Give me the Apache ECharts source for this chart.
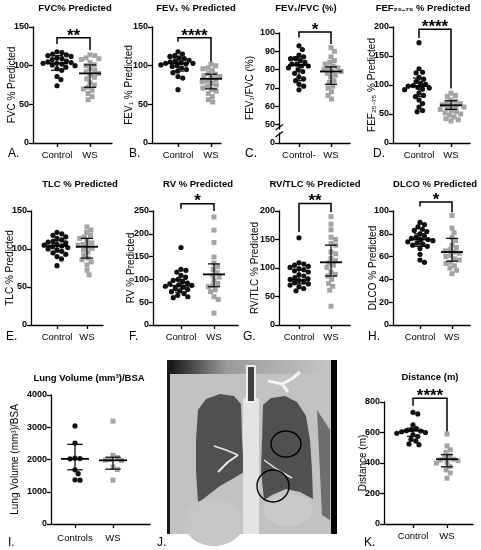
<!DOCTYPE html>
<html>
<head>
<meta charset="utf-8">
<script src="https://cdn.jsdelivr.net/npm/echarts@6/dist/echarts.min.js"></script>
<style>
html, body { margin: 0; padding: 0; background: #fff; }
#chart { width: 481px; height: 550px; }
</style>
</head>
<body>
<div id="chart"></div>
<script>
var chart = echarts.init(document.getElementById('chart'))
var FONT = 'Liberation Sans, Arial, Helvetica, sans-serif'

// group names on the x axes
var groups = ['Control', 'WS']
var groupsC = ['Control-', 'WS']
var groupsI = ['Controls', 'WS']

// A. FVC % predicted
var fvcControl = [118, 117, 115, 114, 113, 112, 110, 109, 108, 106, 105, 104, 103, 103, 102, 101, 100, 98, 96, 94, 86, 82, 74]
var fvcWS = [114, 113, 110, 109, 108, 104, 101, 100, 96, 94, 92, 90, 88, 85, 83, 78, 75, 72, 70, 68, 64, 60, 56]
var fvcBars = [[103, 94, 113], [90, 72, 101]] // centre, low, high
var fvcSig = [136, 128, 120] // bracket top, left leg end, right leg end

// B. FEV1 % predicted
var fev1Control = [118, 115, 113, 112, 110, 109, 107, 106, 105, 104, 103, 103, 102, 101, 100, 99, 97, 95, 93, 91, 86, 84, 69]
var fev1WS = [102, 100, 97, 96, 94, 90, 89, 87, 86, 84, 82, 80, 79, 77, 75, 73, 71, 69, 67, 64, 60, 56, 53]
var fev1Bars = [[103, 93, 110], [83, 70, 89]]
var fev1Sig = [136, 131, 105]

// C. FEV1/FVC
var ratioControl = [93, 91, 88, 87, 86, 86, 85, 84, 83, 83, 82, 82, 81, 80, 79, 78, 76, 75, 74, 72, 71, 69]
var ratioWS = [92, 90, 87, 85, 84, 83, 82, 81, 81, 80, 79, 79, 78, 77, 76, 74, 73, 71, 70, 68, 66, 64]
var ratioBars = [[82.5, 74, 87], [79, 72, 81.5]]
var ratioSig = [100.5, 97.5, 94]

// D. FEF25-75 % predicted
var fefControl = [173, 128, 122, 121, 113, 110, 106, 103, 101, 99, 98, 96, 95, 93, 92, 86, 82, 80, 74, 68, 62, 56, 54]
var fefWS = [86, 82, 80, 74, 72, 70, 68, 66, 65, 63, 62, 60, 58, 56, 54, 52, 50, 48, 45, 42, 40, 38]
var fefBars = [[98, 80, 112], [65, 58, 73]]
var fefSig = [196, 181, 94]

// E. TLC % predicted
var tlcControl = [122, 120, 118, 116, 114, 112, 110, 109, 108, 106, 105, 104, 103, 102, 100, 99, 97, 95, 93, 90, 87, 78]
var tlcWS = [129, 125, 122, 118, 116, 114, 110, 108, 106, 105, 103, 101, 99, 96, 92, 88, 86, 83, 79, 72, 66]
var tlcBars = [[104, 96, 111], [103, 88, 114]]

// F. RV % predicted
var rvControl = [170, 122, 120, 116, 109, 105, 100, 98, 95, 92, 90, 88, 87, 85, 83, 80, 78, 75, 73, 69, 65, 62, 60]
var rvWS = [237, 208, 181, 149, 136, 128, 122, 115, 109, 105, 98, 91, 87, 84, 77, 73, 62, 56, 26]
var rvBars = [[86, 72, 100], [111, 84, 134]]
var rvSig = [266, 255, 250]

// G. RV/TLC % predicted
var rvtlcControl = [153, 109, 107, 105, 103, 101, 99, 97, 95, 93, 88, 86, 83, 81, 80, 78, 76, 74, 72, 70, 67, 64, 60]
var rvtlcWS = [190, 177, 167, 154, 150, 143, 140, 128, 125, 117, 113, 109, 105, 101, 93, 89, 86, 80, 73, 68, 61, 33]
var rvtlcBars = [[79, 72, 96], [110, 86, 140]]
var rvtlcSig = [213, 163, 198]

// H. DLCO % predicted
var dlcoControl = [90, 88, 86, 84, 83, 82, 80, 78, 77, 76, 75, 75, 74, 73, 72, 71, 70, 69, 67, 62, 57, 55]
var dlcoWS = [96, 85, 81, 77, 74, 70, 68, 66, 65, 64, 63, 61, 60, 58, 57, 55, 54, 52, 50, 48, 45]
var dlcoBars = [[75, 69, 80], [64, 56, 76]]
var dlcoSig = [108, 104, 99]

// I. lung volume / BSA
var lungControl = [3040, 2510, 2040, 2030, 2020, 1680, 1560, 1370, 1360]
var lungWS = [3190, 2130, 2060, 2000, 1980, 1970, 1770, 1690, 1360]
var lungBars = [[2020, 1680, 2470], [1975, 1700, 2070]]

// K. walk distance
var distControl = [732, 722, 650, 625, 618, 612, 610, 605, 600, 595, 585, 575, 555, 545, 525, 520]
var distWS = [590, 512, 487, 470, 447, 435, 425, 420, 415, 405, 400, 378, 355, 335, 300]
var distBars = [[612, 575, 628], [425, 375, 455]]
var distSig = [825, 776, 607]

// panel setup: texts, data and where each plot sits on the page
var panels = [
  { letter: 'A.', title: 'FVC% Predicted', yName: 'FVC % Predicted', cats: groups,
    control: fvcControl, ws: fvcWS, bars: fvcBars, sig: fvcSig, stars: '**',
    y: { min: 0, max: 150, step: 50 },
    box: { axisX: 33, ctrlX: 57, wsX: 90, rightX: 112, top: 27, bottom: 143, nameX: 12, titleX: 75, titleY: 8, letterX: 8, letterY: 154 } },
  { letter: 'B.', title: 'FEV\u2081 % Predicted', yName: 'FEV\u2081 % Predicted', cats: groups,
    control: fev1Control, ws: fev1WS, bars: fev1Bars, sig: fev1Sig, stars: '****',
    y: { min: 0, max: 150, step: 50 },
    box: { axisX: 152, ctrlX: 178, wsX: 211, rightX: 221, top: 27, bottom: 143, nameX: 129, titleX: 196, titleY: 8, letterX: 129, letterY: 154 } },
  { letter: 'C.', title: 'FEV\u2081/FVC (%)', yName: 'FEV\u2081/FVC (%)', cats: groupsC,
    control: ratioControl, ws: ratioWS, bars: ratioBars, sig: ratioSig, stars: '*',
    y: { min: 40, max: 100, step: 10, zeroLabel: 40 },
    box: { axisX: 279, ctrlX: 299, wsX: 331, rightX: 350, top: 33, bottom: 143, nameX: 250, titleX: 306, titleY: 8, letterX: 245, letterY: 154 } },
  { letter: 'D.', title: 'FEF\u2082\u2085\u208B\u2087\u2085 % Predicted', yName: 'FEF\u2082\u2085\u208B\u2087\u2085 % Predicted', cats: groups,
    control: fefControl, ws: fefWS, bars: fefBars, sig: fefSig, stars: '****',
    y: { min: 0, max: 200, step: 50 },
    box: { axisX: 393, ctrlX: 419, wsX: 451, rightX: 470, top: 27, bottom: 143, nameX: 372, titleX: 423, titleY: 8, letterX: 373, letterY: 154 } },
  { letter: 'E.', title: 'TLC % Predicted', yName: 'TLC % Predicted', cats: groups,
    control: tlcControl, ws: tlcWS, bars: tlcBars,
    y: { min: 0, max: 150, step: 50 },
    box: { axisX: 31, ctrlX: 57, wsX: 87, rightX: 103, top: 211, bottom: 325, nameX: 10, titleX: 80, titleY: 184, letterX: 6, letterY: 337 } },
  { letter: 'F.', title: 'RV % Predicted', yName: 'RV % Predicted', cats: groups,
    control: rvControl, ws: rvWS, bars: rvBars, sig: rvSig, stars: '*',
    y: { min: 0, max: 250, step: 50 },
    box: { axisX: 153, ctrlX: 181, wsX: 214, rightX: 238, top: 211, bottom: 325, nameX: 131, titleX: 198, titleY: 184, letterX: 129, letterY: 337 } },
  { letter: 'G.', title: 'RV/TLC % Predicted', yName: 'RV/TLC % Predicted', cats: groups,
    control: rvtlcControl, ws: rvtlcWS, bars: rvtlcBars, sig: rvtlcSig, stars: '**',
    y: { min: 0, max: 200, step: 50 },
    box: { axisX: 279, ctrlX: 299, wsX: 331, rightX: 350, top: 211, bottom: 325, nameX: 255, titleX: 315, titleY: 184, letterX: 243, letterY: 337 } },
  { letter: 'H.', title: 'DLCO % Predicted', yName: 'DLCO % Predicted', cats: groups,
    control: dlcoControl, ws: dlcoWS, bars: dlcoBars, sig: dlcoSig, stars: '*',
    y: { min: 0, max: 100, step: 20 },
    box: { axisX: 393, ctrlX: 420, wsX: 452, rightX: 470, top: 211, bottom: 325, nameX: 373, titleX: 435, titleY: 184, letterX: 368, letterY: 337 } },
  { letter: 'I.', title: 'Lung Volume (mm\u00B3)/BSA', yName: 'Lung Volume (mm\u00B3)/BSA', cats: groupsI,
    control: lungControl, ws: lungWS, bars: lungBars, barW: 14,
    y: { min: 0, max: 4000, step: 1000 },
    box: { axisX: 51, ctrlX: 75, wsX: 113, rightX: 150, top: 395, bottom: 524, nameX: 15, titleX: 89, titleY: 378, letterX: 8, letterY: 543, labelMargin: 9 } },
  { letter: 'K.', title: 'Distance (m)', yName: 'Distance (m)', cats: groups,
    control: distControl, ws: distWS, bars: distBars, sig: distSig, stars: '****',
    y: { min: 0, max: 800, step: 200 },
    box: { axisX: 384, ctrlX: 413, wsX: 447, rightX: 473, top: 402, bottom: 524, nameX: 363, titleX: 430, titleY: 377, letterX: 364, letterY: 543 } }
]

// spread points of one group sideways so they do not overlap (like a bee swarm)
function swarm(vals, pxPerUnit, d) {
  var order = vals.map(function(v, i) { return i }).sort(function(a, b) { return vals[b] - vals[a] })
  var placed = []
  var off = []
  order.forEach(function(i) {
    var y = vals[i] * pxPerUnit
    var near = placed.filter(function(p) { return Math.abs(p.y - y) < d })
    var cands = [0]
    near.forEach(function(p) {
      var dx = Math.sqrt(d * d - (p.y - y) * (p.y - y))
      cands.push(p.x + dx, p.x - dx)
    })
    cands.sort(function(a, b) { return Math.abs(a) - Math.abs(b) })
    var x = cands.find(function(c) {
      return near.every(function(p) { return (p.x - c) * (p.x - c) + (p.y - y) * (p.y - y) >= d * d - 0.01 })
    })
    placed.push({ x: x, y: y })
    off[i] = x
  })
  return off
}

// centre line + whiskers
function makeBars(halfW) {
  return function(params, api) {
    var x = api.value(0)
    var m = api.coord([x, api.value(1)])
    var lo = api.coord([x, api.value(2)])
    var hi = api.coord([x, api.value(3)])
    var cap = halfW * 0.55
    var st = { stroke: '#111', lineWidth: 1.3, fill: null }
    return {
      type: 'group',
      children: [
        { type: 'line', shape: { x1: lo[0], y1: lo[1], x2: hi[0], y2: hi[1] }, style: st },
        { type: 'line', shape: { x1: lo[0] - cap, y1: lo[1], x2: lo[0] + cap, y2: lo[1] }, style: st },
        { type: 'line', shape: { x1: hi[0] - cap, y1: hi[1], x2: hi[0] + cap, y2: hi[1] }, style: st },
        { type: 'line', shape: { x1: m[0] - halfW, y1: m[1], x2: m[0] + halfW, y2: m[1] }, style: { stroke: '#000', lineWidth: 1.8 } }
      ]
    }
  }
}

// significance bracket with stars
function makeBracket(stars) {
  return function(params, api) {
    var a = api.coord([api.value(0), api.value(2)])
    var b = api.coord([api.value(1), api.value(2)])
    var la = api.coord([api.value(0), api.value(3)])
    var rb = api.coord([api.value(1), api.value(4)])
    return {
      type: 'group',
      children: [
        { type: 'polyline', shape: { points: [la, a, b, rb] }, style: { stroke: '#000', lineWidth: 1.5, fill: null } },
        { type: 'text', x: (a[0] + b[0]) / 2, y: a[1] - 2,
          style: { text: stars, font: 'bold 17px ' + FONT, fill: '#000',
            align: 'center', verticalAlign: 'middle', textAlign: 'center', textVerticalAlign: 'middle' } }
      ]
    }
  }
}

var grids = []
var xAxes = []
var yAxes = []
var series = []
var texts = []

panels.forEach(function(p, i) {
  var b = p.box
  var unit = b.wsX - b.ctrlX
  var xmin = 1 - (b.ctrlX - b.axisX) / unit
  var xmax = 2 + (b.rightX - b.wsX) / unit
  grids.push({ left: b.axisX, top: b.top, width: b.rightX - b.axisX, height: b.bottom - b.top,
    containLabel: false, outerBoundsMode: 'none' })
  xAxes.push({
    gridIndex: i, type: 'value', min: xmin, max: xmax,
    axisLine: { show: true, onZero: false, lineStyle: { color: '#000', width: 1.3 } },
    axisTick: { show: true, customValues: [1, 2], length: 4, lineStyle: { color: '#000', width: 1.3 } },
    axisLabel: { customValues: [1, 2], margin: b.labelMargin || 7, color: '#000', fontSize: 9.5, fontFamily: FONT,
      formatter: function(v) { return p.cats[Math.round(v) - 1] } },
    splitLine: { show: false }
  })
  yAxes.push({
    gridIndex: i, type: 'value', min: p.y.min, max: p.y.max, interval: p.y.step,
    name: p.yName, nameLocation: 'middle', nameGap: b.axisX - b.nameX - 5, nameMoveOverlap: false,
    nameTextStyle: { color: '#000', fontSize: 10, fontFamily: FONT },
    axisLine: { show: true, lineStyle: { color: '#000', width: 1.3 } },
    axisTick: { show: true, length: 4, lineStyle: { color: '#000', width: 1.3 } },
    axisLabel: { color: '#000', fontSize: 9, fontWeight: 'bold', fontFamily: FONT, margin: 4,
      formatter: function(v) { return v === p.y.zeroLabel ? '0' : String(v) } },
    splitLine: { show: false }
  })
  var ppu = (b.bottom - b.top) / (p.y.max - p.y.min)
  ;[p.control, p.ws].forEach(function(vals, g) {
    var off = swarm(vals, ppu, 5)
    series.push({
      type: 'scatter', xAxisIndex: i, yAxisIndex: i, silent: true, z: 2,
      symbol: g ? 'rect' : 'circle', symbolSize: g ? 5 : 5.2,
      itemStyle: { color: g ? '#a3a3a3' : '#111', opacity: 1 },
      data: vals.map(function(v, k) { return { value: [g + 1, v], symbolOffset: [off[k], 0] } })
    })
  })
  series.push({
    type: 'custom', xAxisIndex: i, yAxisIndex: i, silent: true, z: 3, clip: false,
    renderItem: makeBars(p.barW || 11),
    encode: { x: 0, y: [1, 2, 3] },
    data: p.bars.map(function(s, g) { return [g + 1, s[0], s[1], s[2]] })
  })
  if (p.sig) {
    series.push({
      type: 'custom', xAxisIndex: i, yAxisIndex: i, silent: true, z: 3, clip: false,
      renderItem: makeBracket(p.stars),
      encode: { x: [0, 1], y: [2, 3, 4] },
      data: [[1, 2, p.sig[0], p.sig[1], p.sig[2]]]
    })
  }
  texts.push({ type: 'text', x: b.titleX, y: b.titleY,
    style: { text: p.title, font: 'bold 9.5px ' + FONT, fill: '#000', textAlign: 'center', textVerticalAlign: 'middle' } })
  texts.push({ type: 'text', x: b.letterX, y: b.letterY,
    style: { text: p.letter, font: '12px ' + FONT, fill: '#000', textAlign: 'left', textVerticalAlign: 'middle' } })
})

// panel J letter
texts.push({ type: 'text', x: 157, y: 543, style: { text: 'J.', font: '12px ' + FONT, fill: '#000', textAlign: 'left', textVerticalAlign: 'middle' } })

// axis break marks on panel C
var breakMarks = [
  { type: 'rect', shape: { x: 276, y: 129.5, width: 6, height: 3 }, style: { fill: '#fff' }, z: 10 },
  { type: 'line', shape: { x1: 275.5, y1: 130, x2: 283, y2: 124.5 }, style: { stroke: '#000', lineWidth: 1.2 }, z: 10 },
  { type: 'line', shape: { x1: 275.5, y1: 137, x2: 283, y2: 131.5 }, style: { stroke: '#000', lineWidth: 1.2 }, z: 10 }
]

// panel J: simplified CT scan picture
var ct = [
  { type: 'rect', shape: { x: 167, y: 360, width: 170, height: 174 }, style: { fill: '#c2c2c2' } },
  { type: 'rect', shape: { x: 167, y: 360, width: 170, height: 14 },
    style: { fill: new echarts.graphic.LinearGradient(0, 0, 1, 0, [
      { offset: 0, color: '#101010' }, { offset: 0.35, color: '#9a9a9a' }, { offset: 1, color: '#c8c8c8' }]) } },
  { type: 'rect', shape: { x: 167, y: 360, width: 3, height: 174 }, style: { fill: '#1a1a1a' } },
  { type: 'rect', shape: { x: 331, y: 360, width: 6, height: 174 }, style: { fill: '#050505' } },
  { type: 'polygon', shape: { points: [[317, 410], [330, 430], [330, 520], [322, 515]] }, style: { fill: '#6e6e6e' } },
  { type: 'polygon', shape: { points: [[198, 410], [206, 399], [220, 394], [234, 396], [241, 404], [242, 440], [244, 472], [234, 478], [220, 486], [207, 496], [198, 503], [196, 470], [196, 440]] }, style: { fill: '#505050' } },
  { type: 'polygon', shape: { points: [[263, 405], [271, 398], [285, 396], [297, 402], [306, 416], [310, 440], [312, 470], [313, 499], [300, 492], [286, 489], [272, 495], [264, 500], [261, 470], [262, 440]] }, style: { fill: '#505050' } },
  { type: 'ellipse', shape: { cx: 214, cy: 522, rx: 30, ry: 24 }, style: { fill: '#c6c6c6' } },
  { type: 'ellipse', shape: { cx: 288, cy: 510, rx: 24, ry: 16 }, style: { fill: '#cacaca' } },
  { type: 'rect', shape: { x: 243, y: 398, width: 16, height: 136 }, style: { fill: '#e4e4e4' } },
  { type: 'rect', shape: { x: 247, y: 366, width: 8, height: 36 }, style: { fill: '#404040', stroke: '#eeeeee', lineWidth: 2 } },
  { type: 'polyline', shape: { points: [[268, 381], [282, 384], [293, 378], [300, 372]] }, style: { stroke: '#f4f4f4', lineWidth: 3, fill: null } },
  { type: 'polyline', shape: { points: [[282, 384], [288, 392]] }, style: { stroke: '#f4f4f4', lineWidth: 3, fill: null } },
  { type: 'polyline', shape: { points: [[238, 455], [228, 462], [218, 472]] }, style: { stroke: '#e8e8e8', lineWidth: 2, fill: null } },
  { type: 'polyline', shape: { points: [[238, 455], [226, 450], [214, 446]] }, style: { stroke: '#e8e8e8', lineWidth: 1.5, fill: null } },
  { type: 'polyline', shape: { points: [[264, 460], [278, 470], [292, 478]] }, style: { stroke: '#e0e0e0', lineWidth: 1.5, fill: null } },
  { type: 'ellipse', shape: { cx: 286, cy: 444, rx: 15, ry: 13 }, style: { fill: null, stroke: '#000', lineWidth: 1.4 } },
  { type: 'circle', shape: { cx: 273, cy: 486, r: 16 }, style: { fill: null, stroke: '#000', lineWidth: 1.4 } }
]

var option = {
  animation: false,
  backgroundColor: '#fff',
  grid: grids,
  xAxis: xAxes,
  yAxis: yAxes,
  series: series,
  graphic: { elements: ct.concat(breakMarks, texts) }
}

chart.setOption(option)
</script>
</body>
</html>
